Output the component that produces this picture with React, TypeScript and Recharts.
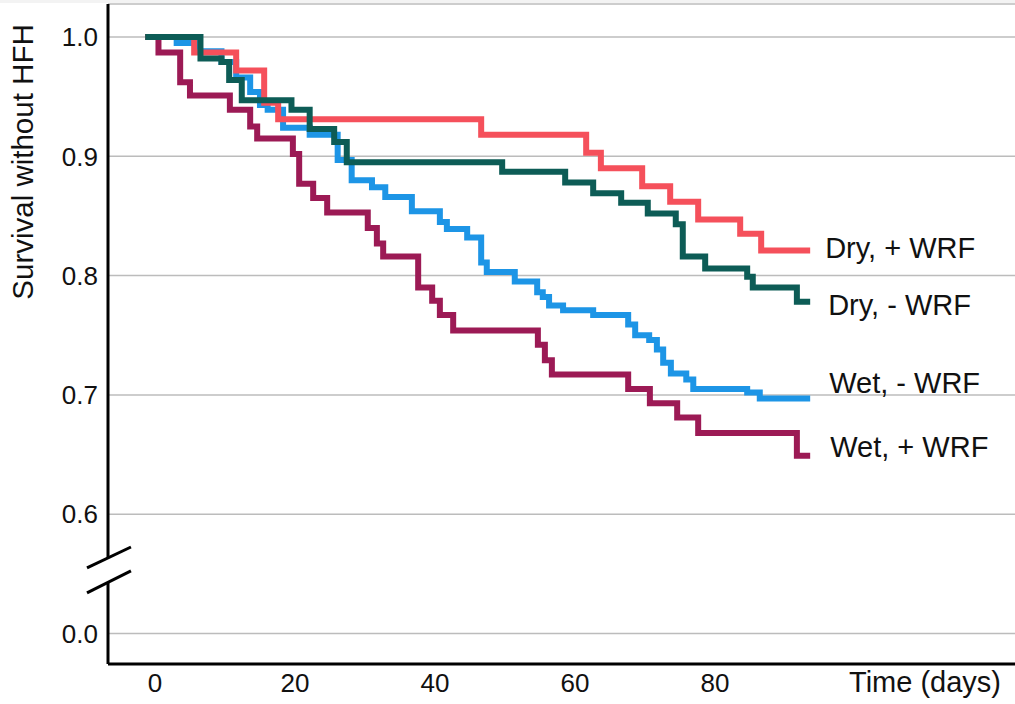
import React from 'react';
import {
  LineChart,
  Line,
  XAxis,
  YAxis,
  CartesianGrid,
  ReferenceLine,
  Label,
} from 'recharts';

// Kaplan-Meier steps (days, survival without HFH)
const dryPlusDays = [-1.4, 5.6, 11.6, 15.6, 17.6, 46.6, 61.6, 63.7, 69.6, 73.6, 77.6, 83.6, 86.6, 93.6];
const dryPlusSurv = [1.0, 0.987, 0.972, 0.945, 0.931, 0.918, 0.903, 0.89, 0.875, 0.862, 0.847, 0.835, 0.821, 0.821];

const dryMinusDays = [-1.4, 6.5, 9.5, 10.6, 12.4, 19.5, 22.1, 25.6, 27.4, 49.6, 58.6, 62.6, 66.6, 70.4, 74.4, 75.4, 78.6, 84.6, 85.4, 91.7, 93.6];
const dryMinusSurv = [1.0, 0.982, 0.979, 0.964, 0.947, 0.939, 0.923, 0.912, 0.895, 0.887, 0.878, 0.869, 0.861, 0.852, 0.843, 0.816, 0.806, 0.799, 0.79, 0.778, 0.778];

const wetMinusDays = [-1.4, 3.1, 6.4, 9.5, 11.6, 13.6, 15.0, 16.1, 18.3, 22.1, 26.1, 28.1, 31.0, 32.9, 36.7, 40.7, 41.7, 44.6, 46.6, 47.4, 51.4, 54.6, 55.4, 56.3, 58.3, 62.6, 67.6, 68.6, 70.6, 71.7, 72.6, 73.7, 75.9, 76.9, 84.6, 86.4, 93.6];
const wetMinusSurv = [1.0, 0.995, 0.988, 0.979, 0.966, 0.954, 0.943, 0.939, 0.924, 0.918, 0.897, 0.88, 0.874, 0.866, 0.854, 0.845, 0.839, 0.832, 0.811, 0.803, 0.795, 0.786, 0.782, 0.775, 0.771, 0.767, 0.759, 0.75, 0.746, 0.738, 0.727, 0.718, 0.713, 0.705, 0.702, 0.697, 0.697];

const wetPlusDays = [-1.4, 0.5, 3.6, 5.0, 10.7, 13.6, 14.6, 19.7, 20.6, 22.6, 24.6, 30.4, 31.7, 32.6, 37.6, 39.6, 40.7, 42.6, 54.7, 55.7, 56.7, 67.6, 70.7, 74.6, 77.6, 91.7, 93.6];
const wetPlusSurv = [1.0, 0.987, 0.962, 0.951, 0.939, 0.925, 0.915, 0.902, 0.877, 0.865, 0.853, 0.84, 0.827, 0.816, 0.79, 0.779, 0.767, 0.754, 0.742, 0.729, 0.717, 0.705, 0.693, 0.681, 0.668, 0.649, 0.649];

const xTicks = [0, 20, 40, 60, 80];
// broken axis: the 0.0 gridline sits one step under 0.6
const ZERO_SLOT = 0.5;
const yTicks = [ZERO_SLOT, 0.6, 0.7, 0.8, 0.9, 1.0];

const X_DOMAIN: [number, number] = [-6.71, 122.86];
const Y_DOMAIN: [number, number] = [0.4744, 1.0277];
const BREAK_TOP = 0.5633;
const BREAK_BOTTOM = 0.5423;

const FONT = '"Liberation Sans", Arial, sans-serif';

const toRows = (days: number[], surv: number[]) => days.map((t, i) => ({ t, s: surv[i] }));

const series = [
  { name: 'Wet, - WRF', data: toRows(wetMinusDays, wetMinusSurv), color: '#1d95e6', dx: 19, dy: -5 },
  { name: 'Wet, + WRF', data: toRows(wetPlusDays, wetPlusSurv), color: '#9c1a55', dx: 20, dy: 1 },
  { name: 'Dry, + WRF', data: toRows(dryPlusDays, dryPlusSurv), color: '#f5505b', dx: 15, dy: 7 },
  { name: 'Dry, - WRF', data: toRows(dryMinusDays, dryMinusSurv), color: '#0d5c56', dx: 18, dy: 13 },
];

const endLabel = (name: string, count: number, dx: number, dy: number) => (props: any) => {
  if (props.index !== count - 1) return null;
  return (
    <text x={props.x + dx} y={props.y + dy} fontSize={29} fill="#111" fontFamily={FONT}>
      {name}
    </text>
  );
};

export default function App() {
  return (
    <div style={{ position: 'absolute', left: 0, top: 0, width: 1015, height: 704, background: '#fff' }}>
      <div style={{ position: 'absolute', left: 0, top: 0, width: 1015, height: 3, background: '#f3f3f3' }} />
      <LineChart width={1015} height={704} margin={{ top: 4, right: 0, bottom: 0, left: 0 }}>
        <CartesianGrid vertical={false} stroke="#bcbcbc" strokeWidth={1.5} />
        <XAxis
          type="number"
          dataKey="t"
          domain={X_DOMAIN}
          allowDataOverflow
          ticks={xTicks}
          height={40}
          tickLine={false}
          tickSize={6}
          tickMargin={4}
          axisLine={{ stroke: '#000', strokeWidth: 3 }}
          tick={{ fontSize: 26, fill: '#111', fontFamily: FONT }}
        >
          <Label
            content={(p: any) => {
              const vb = p.viewBox || { x: 108, y: 664, width: 907 };
              return (
                <text x={vb.x + vb.width - 14} y={vb.y + 28} textAnchor="end" fontSize={29} fill="#111" fontFamily={FONT}>
                  Time (days)
                </text>
              );
            }}
          />
        </XAxis>
        <YAxis
          type="number"
          domain={Y_DOMAIN}
          allowDataOverflow
          ticks={yTicks}
          width={108}
          axisLine={false}
          tickLine={false}
          tickSize={6}
          tickMargin={4}
          tickFormatter={(v: number) => (v <= ZERO_SLOT + 1e-9 ? '0.0' : v.toFixed(1))}
          tick={{ fontSize: 26, fill: '#111', fontFamily: FONT }}
        >
          <Label
            content={(p: any) => {
              const vb = p.viewBox || { x: 0, y: 4 };
              const x = vb.x + 33;
              const y = vb.y + 158;
              return (
                <text x={x} y={y} transform={`rotate(-90, ${x}, ${y})`} textAnchor="middle" fontSize={29.5} fill="#111" fontFamily={FONT}>
                  Survival without HFH
                </text>
              );
            }}
          />
        </YAxis>

        {/* y axis line with the break */}
        <ReferenceLine
          ifOverflow="visible"
          stroke="#000"
          strokeWidth={3}
          segment={[{ x: X_DOMAIN[0], y: Y_DOMAIN[1] }, { x: X_DOMAIN[0], y: BREAK_TOP }]}
        />
        <ReferenceLine
          ifOverflow="visible"
          stroke="#000"
          strokeWidth={3}
          segment={[{ x: X_DOMAIN[0], y: BREAK_BOTTOM }, { x: X_DOMAIN[0], y: Y_DOMAIN[0] }]}
        />
        <ReferenceLine
          ifOverflow="visible"
          stroke="#000"
          strokeWidth={3}
          segment={[{ x: -9.71, y: 0.5549 }, { x: -3.43, y: 0.5725 }]}
        />
        <ReferenceLine
          ifOverflow="visible"
          stroke="#000"
          strokeWidth={3}
          segment={[{ x: -9.71, y: 0.534 }, { x: -3.43, y: 0.5524 }]}
        />

        {series.map((s) => (
          <Line
            key={s.name}
            data={s.data}
            dataKey="s"
            type="stepAfter"
            stroke={s.color}
            strokeWidth={6}
            strokeLinejoin="miter"
            dot={false}
            activeDot={false}
            isAnimationActive={false}
            label={endLabel(s.name, s.data.length, s.dx, s.dy)}
          />
        ))}
      </LineChart>
    </div>
  );
}
